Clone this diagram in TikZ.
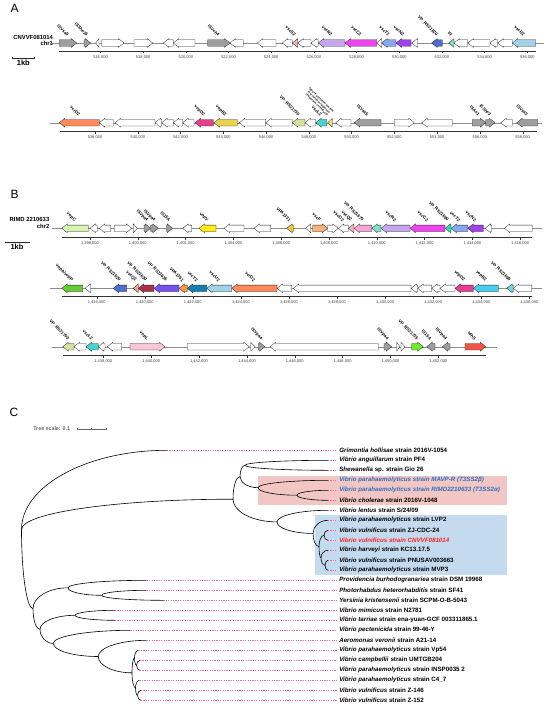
\documentclass[tikz,border=0pt]{standalone}
\usepackage{fontspec}
\setmainfont{Liberation Sans}
\usetikzlibrary{calc}
\definecolor{gI}{HTML}{9E9E9E}
\definecolor{cpinkA}{HTML}{F4B4B4}
\definecolor{clav}{HTML}{C6A6EE}
\definecolor{cmag}{HTML}{EE44EE}
\definecolor{ccorn}{HTML}{86A8F2}
\definecolor{cpur}{HTML}{A040EE}
\definecolor{croy}{HTML}{4A6FD0}
\definecolor{caqua}{HTML}{7EE3C0}
\definecolor{clblue}{HTML}{9FD3E6}
\definecolor{ccoral}{HTML}{FF8A5C}
\definecolor{cmpink}{HTML}{E63E8C}
\definecolor{cyel}{HTML}{E8D44A}
\definecolor{colive}{HTML}{D4E2A0}
\definecolor{ccyan}{HTML}{44D4D4}
\definecolor{cyel2}{HTML}{E6E86A}
\definecolor{clgreen}{HTML}{D8F5B0}
\definecolor{cyellow}{HTML}{FFEE11}
\definecolor{cgold}{HTML}{F4C542}
\definecolor{ctan}{HTML}{F5B27A}
\definecolor{cpink}{HTML}{F5A6D6}
\definecolor{cteal}{HTML}{22E6A6}
\definecolor{cgreen}{HTML}{66CC33}
\definecolor{ctan2}{HTML}{E8A878}
\definecolor{ccrim}{HTML}{A83248}
\definecolor{cbp}{HTML}{7452F0}
\definecolor{corange}{HTML}{F39A34}
\definecolor{cteb}{HTML}{1480B0}
\definecolor{ccyan2}{HTML}{48CCF0}
\definecolor{ccyan3}{HTML}{64DCE6}
\definecolor{cpink2}{HTML}{F9C6D6}
\definecolor{cgreen2}{HTML}{6CEE2A}
\definecolor{cred}{HTML}{F25544}
\definecolor{boxred}{HTML}{F2C6C2}
\definecolor{boxblue}{HTML}{C4DAEE}
\definecolor{tblue}{HTML}{2F6EC0}
\definecolor{tred}{HTML}{FF2222}
\definecolor{dpink}{HTML}{FF66AA}
\newcommand\genR[4]{\pgfmathsetmacro\hb{max(#1,#2-5.5)}\filldraw[gs,fill=#4] (#1,#3-3.2) -- (\hb,#3-3.2) -- (\hb,#3-4.4) -- (#2,#3) -- (\hb,#3+4.4) -- (\hb,#3+3.2) -- (#1,#3+3.2) -- cycle;}
\newcommand\genL[4]{\pgfmathsetmacro\hb{min(#2,#1+5.5)}\filldraw[gs,fill=#4] (#2,#3-3.2) -- (\hb,#3-3.2) -- (\hb,#3-4.4) -- (#1,#3) -- (\hb,#3+4.4) -- (\hb,#3+3.2) -- (#2,#3+3.2) -- cycle;}
\newcommand\glab[4]{\node[gl] at ({(#1+#2)/2},{#3-7.5}) {#4};}
\newcommand\br[2]{\draw[branch] (#1) .. controls ($(#1)!0.55!(#1|-#2)$) and ($(#2)!0.55!(#1|-#2)$) .. (#2);}
\newcommand\leaf[4]{\coordinate (L#1) at (#2,{450.3+10*#1});
  \node[leaflab,text=#4] (T#1) at (339.3,{450.3+10*#1}) {#3};
  \draw[ldash] (L#1) -- (T#1.west);}
\begin{document}
\begin{tikzpicture}[x=1pt,y=-1pt,
  every node/.style={inner sep=0pt,outer sep=0pt},
  gs/.style={draw=black!85,line width=0.3pt},
  bb/.style={draw=black!45,line width=0.4pt},
  ax/.style={draw=black!80,line width=0.8pt},
  tk/.style={draw=black!80,line width=0.4pt},
  tl/.style={font=\fontsize{4}{4.5}\selectfont,text=black!75,anchor=north},
  gl/.style={font=\fontsize{4.3}{4.8}\selectfont\bfseries,rotate=-45,anchor=east},
  rowlab/.style={font=\fontsize{5.9}{6.5}\selectfont\bfseries,anchor=east},
  panel/.style={font=\fontsize{12}{12}\selectfont,anchor=north west},
  kb/.style={font=\fontsize{7.5}{8}\selectfont\bfseries,anchor=north},
  branch/.style={draw=black,line width=0.6pt},
  ldash/.style={draw=dpink,line width=0.5pt,dash pattern=on 1.2pt off 1.2pt,shorten >=2.5pt},
  leaflab/.style={font=\fontsize{6.2}{6.6}\selectfont\bfseries,anchor=west}]
\useasboundingbox (0,0) rectangle (550,709);
\fill[white] (0,0) rectangle (550,709);

% ================= PANEL A =================
\node[panel] (pA) at (10.5,4) {A};
\node[rowlab] (rA1) at (53,37.5) {CNVVF081014};
\node[rowlab] (rA2) at (53,43.5) {chr1};
\draw[black!85,line width=0.8pt] (12.3,57.3) -- (12.3,58.3) -- (34.3,58.3) -- (34.3,57.3);
\node[kb] (kbA) at (23.3,60) {1kb};

% row A1
\draw[bb] (50,43) -- (544.3,43);
\draw[ax] (59.3,51) -- (535.5,51);
\foreach \x/\t in {100.5/{516,000},143.2/{518,000},185.9/{520,000},228.5/{522,000},271.2/{524,000},313.9/{526,000},356.6/{528,000},399.3/{530,000},441.9/{532,000},484.6/{534,000},527.3/{536,000}}
  {\draw[tk] (\x,51) -- (\x,53.5); \node[tl] at (\x,55.3) {\t};}
\genR{59.3}{76.7}{43}{gI}
\genR{84}{90.7}{43}{gI}
\genL{95.7}{99}{43}{white}
\genR{101.7}{124}{43}{white}
\genR{134}{152.7}{43}{white}
\genL{163.3}{173.3}{43}{white}
\genL{173.3}{195}{43}{white}
\genR{207.7}{230}{43}{gI}
\genL{230}{243.3}{43}{white}
\genL{257.3}{276}{43}{white}
\genL{282.3}{292.3}{43}{white}
\genL{292.3}{297.7}{43}{cpinkA}
\genL{297.7}{311}{43}{white}
\genL{311}{318.3}{43}{white}
\genL{318.3}{345}{43}{clav}
\genL{345}{376.7}{43}{cmag}
\genL{376.7}{381.7}{43}{white}
\genL{381.7}{396}{43}{ccorn}
\genL{396}{411}{43}{cpur}
\genL{411.7}{417.7}{43}{white}
\genL{431.7}{442.3}{43}{croy}
\genL{449}{454}{43}{caqua}
\genL{454}{467.7}{43}{white}
\genL{467.7}{490}{43}{white}
\genL{490}{497.7}{43}{white}
\genL{497.7}{512.3}{43}{white}
\genL{512.3}{535.7}{43}{clblue}
\glab{59.3}{76.7}{43}{ISVsa5}
\glab{84}{90.7}{43}{ISShe16}
\glab{207.7}{230}{43}{ISVch4}
\glab{292.3}{297.7}{43}{vscS2}
\glab{318.3}{345}{43}{vscR2}
\glab{345}{376.7}{43}{vscC2}
\glab{381.7}{396}{43}{vscT2}
\glab{396}{411}{43}{vscN2}
\glab{431.7}{442.3}{43}{VP\_RS21820}
\glab{449}{454}{43}{tlf}
\glab{512.3}{535.7}{43}{vscU2}

% row A2
\draw[bb] (50,122.7) -- (541.7,122.7);
\draw[ax] (60.3,131) -- (536.7,131);
\foreach \x/\t in {95/{538,000},137.8/{540,000},180.5/{542,000},223.3/{544,000},266.1/{546,000},308.9/{548,000},351.6/{550,000},394.4/{552,000},437.2/{554,000},479.9/{556,000},522.7/{558,000}}
  {\draw[tk] (\x,131) -- (\x,133.5); \node[tl] at (\x,135.3) {\t};}
\genL{59.3}{99.3}{122.7}{ccoral}
\genL{99.3}{113.3}{122.7}{white}
\genL{115}{155}{122.7}{white}
\genL{155}{161.7}{122.7}{white}
\genL{161.7}{173.3}{122.7}{white}
\genL{173.3}{182.7}{122.7}{white}
\genL{182.7}{194}{122.7}{white}
\genL{195}{213.3}{122.7}{cmpink}
\genL{214}{237.3}{122.7}{cyel}
\genL{239.3}{265.7}{122.7}{white}
\genL{265.7}{292.3}{122.7}{white}
\genL{292.3}{305}{122.7}{colive}
\genL{305}{315.7}{122.7}{white}
\genL{315.7}{326.7}{122.7}{ccyan}
\genL{327.7}{332.3}{122.7}{cyel2}
\genL{335.7}{351}{122.7}{white}
\genL{354.3}{381}{122.7}{gI}
\genR{394.3}{414.3}{122.7}{white}
\genL{421.7}{452.3}{122.7}{white}
\genR{472.3}{485.7}{122.7}{gI}
\genR{485.7}{495}{122.7}{gI}
\genL{500.7}{512.3}{122.7}{white}
\genL{516.7}{537.7}{122.7}{gI}
\glab{59.3}{99.3}{122.7}{vcrD2}
\glab{195}{213.3}{122.7}{vopD2}
\glab{214}{237.3}{122.7}{vopB2}
\glab{292.3}{305}{122.7}{VP\_RS21730}
\glab{315.7}{326.7}{122.7}{vscL2}
\node[gl,font=\fontsize{2.9}{3.2}\selectfont\bfseries,align=center] (longlab) at (331,114.5) {Type III secretion system\\ low calcium response\\ chaperone LcrH/SycD};
\glab{354.3}{381}{122.7}{ISVsa5}
\glab{472.3}{485.7}{122.7}{ISAs1}
\glab{485.7}{495}{122.7}{ISShe3}
\glab{516.7}{537.7}{122.7}{ISVsa3}

% ================= PANEL B =================
\node[panel] (pB) at (10.5,190.5) {B};
\node[rowlab] (rB1) at (49.3,219.5) {RIMD 2210633};
\node[rowlab] (rB2) at (49.3,226.5) {chr2};
\draw[black!85,line width=0.8pt] (5,241.7) -- (5,242.7) -- (29,242.7) -- (29,241.7);
\node[kb] (kbB) at (17,244.5) {1kb};

% row B1
\draw[bb] (51.7,228.3) -- (541.7,228.3);
\draw[ax] (62,237) -- (532,237);
\foreach \x/\t in {90/{1,398,000},137.8/{1,400,000},185.6/{1,402,000},233.4/{1,404,000},281.2/{1,406,000},329/{1,408,000},376.8/{1,410,000},424.6/{1,412,000},472.4/{1,414,000},520.2/{1,416,000}}
  {\draw[tk] (\x,237) -- (\x,239.5); \node[tl] at (\x,241.5) {\t};}
\genL{61.7}{88.3}{228.3}{clgreen}
\genL{90}{97.3}{228.3}{white}
\genL{99.3}{110.7}{228.3}{white}
\genR{114.3}{131.7}{228.3}{white}
\genR{133.3}{137.3}{228.3}{white}
\genR{144}{150.7}{228.3}{gI}
\genR{150.7}{158.3}{228.3}{gI}
\genR{166.7}{172.7}{228.3}{gI}
\genL{182.7}{191.7}{228.3}{white}
\genL{199}{216}{228.3}{cyellow}
\genL{224}{244}{228.3}{white}
\genL{254}{270.7}{228.3}{white}
\genL{286.7}{293.3}{228.3}{cgold}
\genL{305.7}{310.7}{228.3}{white}
\genR{312.7}{327.7}{228.3}{ctan}
\genR{327.7}{338.3}{228.3}{white}
\genL{338.3}{348.3}{228.3}{white}
\genL{348.3}{354}{228.3}{cpinkA}
\genL{354}{371.7}{228.3}{cpink}
\genL{371.7}{381}{228.3}{caqua}
\genL{381}{410}{228.3}{clav}
\genL{410}{445}{228.3}{cmag}
\genL{445}{451}{228.3}{cteal}
\genL{451}{467.7}{228.3}{ccorn}
\genL{467.7}{483.3}{228.3}{cpur}
\genL{485}{491.7}{228.3}{white}
\genL{504.3}{532.3}{228.3}{white}
\glab{61.7}{88.3}{228.3}{vopC}
\glab{144}{150.7}{228.3}{ISVpa4}
\glab{150.7}{158.3}{228.3}{ISVpa4}
\glab{166.7}{172.7}{228.3}{IS15A}
\glab{199}{216}{228.3}{vopV}
\glab{286.7}{293.3}{228.3}{VPA1331}
\glab{312.7}{327.7}{228.3}{vscF}
\glab{338.3}{348.3}{228.3}{vscO2}
\glab{348.3}{354}{228.3}{vscQ2}
\glab{354}{371.7}{228.3}{VP\_RS21675}
\glab{381}{410}{228.3}{vscR2}
\glab{410}{445}{228.3}{vscC2}
\glab{445}{451}{228.3}{VP\_RS21680}
\glab{451}{467.7}{228.3}{vscT2}
\glab{467.7}{483.3}{228.3}{vscN2}

% row B2
\draw[bb] (50,288.3) -- (541.7,288.3);
\draw[ax] (61.7,296.7) -- (531.7,296.7);
\foreach \x/\t in {96.7/{1,418,000},144.8/{1,420,000},192.8/{1,422,000},240.9/{1,424,000},289/{1,426,000},337/{1,428,000},385.1/{1,430,000},433.2/{1,432,000},481.3/{1,434,000},529.3/{1,436,000}}
  {\draw[tk] (\x,296.7) -- (\x,299.2); \node[tl] at (\x,301.2) {\t};}
\genL{61.7}{82.7}{288.3}{cgreen}
\genL{85}{90.7}{288.3}{white}
\genL{113.3}{126.7}{288.3}{croy}
\genL{133.3}{138.3}{288.3}{ctan2}
\genL{138.3}{154}{288.3}{ccrim}
\genL{154}{179}{288.3}{cbp}
\genL{179}{187.3}{288.3}{corange}
\genL{187.3}{206.7}{288.3}{cteb}
\genL{206.7}{231.7}{288.3}{clblue}
\genL{231.7}{277}{288.3}{ccoral}
\genL{277}{291.7}{288.3}{white}
\genL{293.3}{411}{288.3}{white}
\genL{411}{417.7}{288.3}{white}
\genL{417.7}{431.7}{288.3}{white}
\genL{431.7}{440}{288.3}{white}
\genL{440}{455}{288.3}{white}
\genL{455}{473.3}{288.3}{cmpink}
\genL{473.3}{498.3}{288.3}{ccyan2}
\genL{506.7}{513.3}{288.3}{ccyan3}
\genL{513.3}{531.7}{288.3}{white}
\glab{61.7}{82.7}{288.3}{vopA/vopP}
\glab{113.3}{126.7}{288.3}{VP\_RS21620}
\glab{133.3}{138.3}{288.3}{vscQ2}
\glab{138.3}{154}{288.3}{VP\_RS21630}
\glab{154}{179}{288.3}{VP\_RS21635}
\glab{179}{187.3}{288.3}{VPA1351}
\glab{187.3}{206.7}{288.3}{vscT2}
\glab{206.7}{231.7}{288.3}{vscU2}
\glab{231.7}{277}{288.3}{vcrD2}
\glab{455}{473.3}{288.3}{vopD2}
\glab{473.3}{498.3}{288.3}{vopB2}
\glab{506.7}{513.3}{288.3}{VP\_RS21695}

% row B3
\draw[bb] (51.7,346.7) -- (496.7,346.7);
\draw[ax] (62.7,355.7) -- (485.7,355.7);
\foreach \x/\t in {103.3/{1,438,000},151.2/{1,440,000},199/{1,442,000},246.9/{1,444,000},294.7/{1,446,000},342.6/{1,448,000},390.5/{1,450,000},438.3/{1,452,000}}
  {\draw[tk] (\x,355.7) -- (\x,358.2); \node[tl] at (\x,360.2) {\t};}
\genL{62.7}{74}{346.7}{colive}
\genL{74}{86}{346.7}{white}
\genL{86}{98.3}{346.7}{ccyan}
\genL{98.3}{105}{346.7}{white}
\genL{107.3}{121.7}{346.7}{white}
\genR{130}{165}{346.7}{cpink2}
\genR{187.3}{249.3}{346.7}{white}
\genR{250.7}{255}{346.7}{white}
\genR{258.3}{265}{346.7}{gI}
\genL{270}{378.3}{346.7}{white}
\genR{384}{391.7}{346.7}{gI}
\genR{396.7}{400}{346.7}{white}
\genR{401}{405}{346.7}{white}
\genR{411.7}{423.3}{346.7}{cgreen2}
\genL{426.7}{435}{346.7}{gI}
\genL{442.3}{450}{346.7}{gI}
\genR{465}{485.7}{346.7}{cred}
\glab{62.7}{74}{346.7}{VP\_RS21700}
\glab{86}{98.3}{346.7}{vscL2}
\glab{130}{165}{346.7}{vopL}
\glab{258.3}{265}{346.7}{ISVpa4}
\glab{384}{391.7}{346.7}{ISVpa4}
\glab{411.7}{423.3}{346.7}{VP\_RS21735}
\glab{426.7}{435}{346.7}{IS15A}
\glab{442.3}{450}{346.7}{ISVpa4}
\glab{465}{485.7}{346.7}{tdhS}

% ================= PANEL C =================
\node[panel] (pC) at (9.5,408) {C};
\node[font=\fontsize{5.3}{6}\selectfont\bfseries,text=black!60,anchor=west] (ts) at (33.3,429) {Tree scale: 0.1};
\draw[black!60,line width=0.4pt] (76.7,429) -- (106,429);
\foreach \x in {76.7,91.3,106} \draw[black!60,line width=0.4pt] (\x,428) -- (\x,430);
\fill[boxred] (258.3,476) rectangle (506.7,505.3);
\fill[boxblue] (315,515.3) rectangle (506.7,575);

\leaf{0}{167}{\textit{Grimontia hollisae} strain 2016V-1054}{black}
\leaf{1}{328}{\textit{Vibrio anguillarum} strain PF4}{black}
\leaf{2}{328}{\textit{Shewanella} sp. strain Gio 26}{black}
\leaf{3}{328}{\textit{Vibrio parahaemolyticus strain MAVP-R (T3SS2β)}}{tblue}
\leaf{4}{328}{\textit{Vibrio parahaemolyticus strain RIMD2210633 (T3SS2α)}}{tblue}
\leaf{5}{328}{\textit{Vibrio cholerae} strain 2016V-1048}{black}
\leaf{6}{328}{\textit{Vibrio lentus} strain S/24/09}{black}
\leaf{7}{328}{\textit{Vibrio parahaemolyticus} strain LVP2}{black}
\leaf{8}{328}{\textit{Vibrio vulnificus} strain ZJ-CDC-24}{black}
\leaf{9}{328}{\textit{Vibrio vulnificus strain CNVVF081014}}{tred}
\leaf{10}{328}{\textit{Vibrio harveyi} strain KC13.17.5}{black}
\leaf{11}{328}{\textit{Vibrio vulnificus} strain PNUSAV003663}{black}
\leaf{12}{328}{\textit{Vibrio parahaemolyticus} strain MVP3}{black}
\leaf{13}{146.7}{\textit{Providencia burhodogranariea} strain DSM 19968}{black}
\leaf{14}{146.7}{\textit{Photorhabdus heterorhabditis} strain SF41}{black}
\leaf{15}{163.3}{\textit{Yersinia kristensenii} strain SCPM-O-B-5043}{black}
\leaf{16}{115}{\textit{Vibrio mimicus} strain N2781}{black}
\leaf{17}{115}{\textit{Vibrio tarriae} strain ena-yuan-GCF 003311865.1}{black}
\leaf{18}{130.7}{\textit{Vibrio pectenicida} strain 99-46-Y}{black}
\leaf{19}{146.7}{\textit{Aeromonas veronii} strain A21-14}{black}
\leaf{20}{138.5}{\textit{Vibrio parahaemolyticus} strain Vp54}{black}
\leaf{21}{140}{\textit{Vibrio campbellii} strain UMTGB204}{black}
\leaf{22}{140}{\textit{Vibrio parahaemolyticus} strain INSP0035 2}{black}
\leaf{23}{139.5}{\textit{Vibrio parahaemolyticus} strain C4\_7}{black}
\leaf{24}{141}{\textit{Vibrio vulnificus} strain Z-146}{black}
\leaf{25}{141}{\textit{Vibrio vulnificus} strain Z-152}{black}

\coordinate (A1a) at (245,465.3);
\coordinate (RC) at (297,495.2);
\coordinate (Red) at (258,487.7);
\coordinate (A1) at (240,476.5);
\coordinate (A7) at (325,565.3);
\coordinate (A6) at (321,557.8);
\coordinate (A5) at (324,535.3);
\coordinate (A4) at (319,546.5);
\coordinate (A3) at (313,533.4);
\coordinate (A2) at (277,521.9);
\coordinate (NA) at (233,499.2);
\coordinate (P2) at (101.7,595.3);
\coordinate (P) at (68,587.8);
\coordinate (Q1) at (75,615.3);
\coordinate (Q6) at (136.5,665.3);
\coordinate (Q5) at (134.5,657.8);
\coordinate (Q8) at (137.5,695.3);
\coordinate (Q7) at (135.5,687.8);
\coordinate (Q4) at (132,672.8);
\coordinate (Q3) at (98.3,656.5);
\coordinate (Q2) at (53.3,643.4);
\coordinate (Q) at (40,629.3);
\coordinate (B) at (33,608.6);
\coordinate (R) at (21.5,529.5);

\br{A1a}{L1}\br{A1a}{L2}
\br{RC}{L4}\br{RC}{L5}
\br{Red}{L3}\br{Red}{RC}
\br{A1}{A1a}\br{A1}{Red}
\br{A7}{L11}\br{A7}{L12}
\br{A6}{L10}\br{A6}{A7}
\br{A5}{L8}\br{A5}{L9}
\br{A4}{A5}\br{A4}{A6}
\br{A3}{L7}\br{A3}{A4}
\br{A2}{L6}\br{A2}{A3}
\br{NA}{A1}\br{NA}{A2}
\br{P2}{L14}\br{P2}{L15}
\br{P}{L13}\br{P}{P2}
\br{Q1}{L16}\br{Q1}{L17}
\br{Q6}{L21}\br{Q6}{L22}
\br{Q5}{L20}\br{Q5}{Q6}
\br{Q8}{L24}\br{Q8}{L25}
\br{Q7}{L23}\br{Q7}{Q8}
\br{Q4}{Q5}\br{Q4}{Q7}
\br{Q3}{L19}\br{Q3}{Q4}
\br{Q2}{L18}\br{Q2}{Q3}
\br{Q}{Q1}\br{Q}{Q2}
\br{B}{P}\br{B}{Q}
\br{R}{L0}\br{R}{NA}\br{R}{B}
\end{tikzpicture}
\end{document}
